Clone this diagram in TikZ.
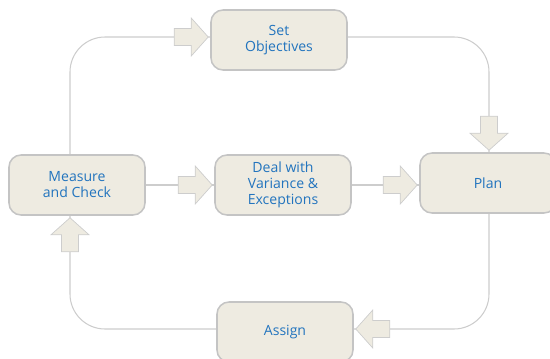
\documentclass[tikz,border=0pt]{standalone}
\usepackage{fontspec}
\setmainfont{Open Sans}
\usetikzlibrary{shapes,arrows,positioning,calc}
\definecolor{boxfill}{RGB}{238,235,225}
\definecolor{boxline}{RGB}{196,196,196}
\definecolor{textblue}{RGB}{34,116,190}
\definecolor{loopgray}{RGB}{205,205,205}

\begin{document}
\begin{tikzpicture}[x=0.03cm,y=-0.03cm,
  taskbox/.style={
    draw=boxline,
    line width=1.3pt,
    fill=boxfill,
    rounded corners=0.36cm,
    minimum width=4.08cm,
    minimum height=1.8cm,
    align=center,
    text=textblue,
    font=\fontsize{12}{13.6}\selectfont
  },
  blockarrow/.pic={
    \draw[draw=loopgray, fill=boxfill, line width=0.6pt, line join=miter]
      (-2,0) -- (-19,19) -- (-19,8.5) -- (-36,8.5) -- (-36,-8.5)
      -- (-19,-8.5) -- (-19,-19) -- cycle;
  },
  loopline/.style={draw=loopgray, line width=0.9pt, rounded corners=1.05cm}
]

\useasboundingbox (0,0) rectangle (550,359);
\clip (0,0) rectangle (550,359);

% ---- Boxes ----
\node[taskbox] (setobj) at (279,40) {Set\\Objectives};
\node[taskbox] (measure) at (77,185) {Measure\\and Check};
\node[taskbox] (deal) at (283,185) {Deal with\\Variance \&\\Exceptions};
\node[taskbox] (plan) at (488,183) {Plan};
\node[taskbox] (assign) at (285,332) {Assign};

% ---- Loop corners ----
\coordinate (tl) at (70,37);
\coordinate (tr) at (489,37);
\coordinate (br) at (489,329);
\coordinate (bl) at (70,329);

% ---- Connecting lines ----
\draw[loopline] (measure.north -| tl) -- (tl) -- (setobj.west |- tl);
\draw[loopline] (setobj.east |- tr) -- (tr) -- (plan.north -| tr);
\draw[loopline] (plan.south -| br) -- (br) -- (assign.east |- br);
\draw[loopline] (assign.west |- bl) -- (bl) -- (measure.south -| bl);
\draw[loopline] (measure.east) -- (deal.west);
\draw[loopline] (deal.east) -- (deal.east -| plan.west);

% ---- Block arrows ----
\pic at (setobj.west |- tl) {blockarrow};
\pic at (deal.west) {blockarrow};
\pic at (deal.east -| plan.west) {blockarrow};
\pic[rotate=-90] at (plan.north -| tr) {blockarrow};
\pic[rotate=90] at (measure.south -| bl) {blockarrow};
\pic[rotate=180] at (assign.east |- br) {blockarrow};

\end{tikzpicture}
\end{document}
